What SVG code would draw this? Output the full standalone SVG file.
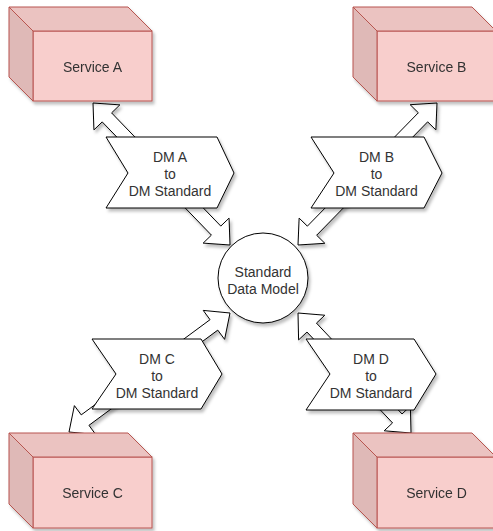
<svg xmlns="http://www.w3.org/2000/svg" width="493" height="531" viewBox="0 0 493 531">
<defs>
<filter id="sh" x="-20%" y="-20%" width="140%" height="140%">
<feDropShadow dx="2" dy="3" stdDeviation="1.5" flood-color="#000" flood-opacity="0.25"/>
</filter>
<style>
.arrow{fill:#fff;stroke:#000;stroke-width:1;stroke-linejoin:miter;filter:url(#sh)}
.front{fill:#f8cecc;stroke:#b85450;stroke-width:1}
.top{fill:#ebc3c1;stroke:#b85450;stroke-width:1;stroke-linejoin:round}
.left{fill:#dfb9b7;stroke:#b85450;stroke-width:1;stroke-linejoin:round}
.step{fill:#fff;stroke:#000;stroke-width:1;filter:url(#sh)}
.lbl{font-family:"Liberation Sans",Arial,sans-serif;font-size:14px;fill:#333;text-anchor:middle}
</style>
</defs>
<rect width="493" height="531" fill="#fff"/>
<g id="connectors">
<polygon class="arrow" points="93,103 93.94,129.89 102.21,121.9 211.43,235.12 203.16,243.11 230,245 229.06,218.11 220.79,226.1 111.57,112.88 119.84,104.89"/>
<polygon class="arrow" points="437,103 410.15,104.7 418.37,112.74 307.35,226.16 299.13,218.12 298,245 324.85,243.3 316.63,235.26 427.65,121.84 435.87,129.88"/>
<polygon class="arrow" points="69,432 95.78,434.59 88.94,425.34 217.78,330.12 224.62,339.37 230,313 203.22,310.41 210.06,319.66 81.22,414.88 74.38,405.63"/>
<polygon class="arrow" points="298,313 298.6,339.9 306.98,332.02 392.56,422.9 384.18,430.78 411,433 410.4,406.1 402.02,413.98 316.44,323.1 324.82,315.22"/>
</g>
<g id="serviceA" filter="url(#sh)">
<rect class="front" x="33" y="31" width="119" height="70"/>
<polygon class="top" points="9,7 128,7 152,31 33,31"/>
<polygon class="left" points="9,7 33,31 33,101 9,77"/>
<text class="lbl" x="92.5" y="72">Service A</text>
</g>
<g id="serviceB" filter="url(#sh)">
<rect class="front" x="377" y="31" width="119" height="70"/>
<polygon class="top" points="353,7 472,7 496,31 377,31"/>
<polygon class="left" points="353,7 377,31 377,101 353,77"/>
<text class="lbl" x="436.5" y="72">Service B</text>
</g>
<g id="serviceC" filter="url(#sh)">
<rect class="front" x="33" y="457" width="119" height="71"/>
<polygon class="top" points="9,433 128,433 152,457 33,457"/>
<polygon class="left" points="9,433 33,457 33,528 9,504"/>
<text class="lbl" x="92.5" y="498">Service C</text>
</g>
<g id="serviceD" filter="url(#sh)">
<rect class="front" x="377" y="457" width="119" height="71"/>
<polygon class="top" points="353,433 472,433 496,457 377,457"/>
<polygon class="left" points="353,433 377,457 377,528 353,504"/>
<text class="lbl" x="436.5" y="498">Service D</text>
</g>
<g id="dmA">
<polygon class="step" points="106,137 217,137 234,173 217,208 106,208 128,173"/>
<text class="lbl" x="170" y="162">DM A</text>
<text class="lbl" x="170" y="179">to</text>
<text class="lbl" x="170" y="196">DM Standard</text>
</g>
<g id="dmB">
<polygon class="step" points="311,137 424,137 442,173 424,208 311,208 334,173"/>
<text class="lbl" x="376.5" y="162">DM B</text>
<text class="lbl" x="376.5" y="179">to</text>
<text class="lbl" x="376.5" y="196">DM Standard</text>
</g>
<g id="dmC">
<polygon class="step" points="92,339 201,339 222,374 201,409 92,409 116,374"/>
<text class="lbl" x="157" y="364">DM C</text>
<text class="lbl" x="157" y="381">to</text>
<text class="lbl" x="157" y="398">DM Standard</text>
</g>
<g id="dmD">
<polygon class="step" points="306,339 414,339 436,374 414,410 306,410 330,374"/>
<text class="lbl" x="371" y="364">DM D</text>
<text class="lbl" x="371" y="381">to</text>
<text class="lbl" x="371" y="398">DM Standard</text>
</g>
<g id="standard">
<circle cx="263" cy="278" r="45" fill="#fff" stroke="#000" stroke-width="1" filter="url(#sh)"/>
<text class="lbl" x="263" y="277">Standard</text>
<text class="lbl" x="263" y="294">Data Model</text>
</g>
</svg>
